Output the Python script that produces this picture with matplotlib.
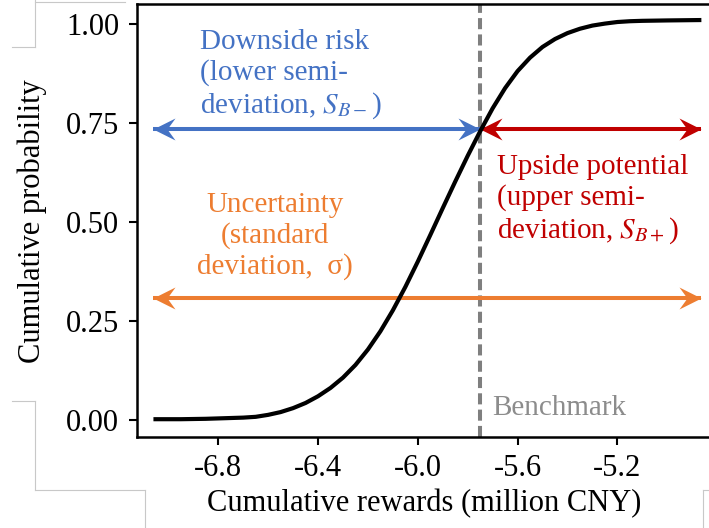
import matplotlib
matplotlib.use("Agg")
import matplotlib.pyplot as plt
from matplotlib.path import Path
from matplotlib.lines import Line2D

plt.rcParams['font.family'] = ['Liberation Serif', 'DejaVu Serif']
plt.rcParams['mathtext.fontset'] = 'stix'

# ---- data ----
reward = [-7.06, -6.95, -6.85, -6.75, -6.70, -6.65, -6.60, -6.55, -6.50, -6.45,
          -6.40, -6.35, -6.30, -6.25, -6.20, -6.15, -6.10, -6.05, -6.00, -5.95,
          -5.90, -5.85, -5.80, -5.75, -5.70, -5.65, -5.60, -5.55, -5.50, -5.45,
          -5.40, -5.35, -5.30, -5.25, -5.20, -5.15, -5.10, -5.00, -4.863]
cum_prob = [0.002, 0.002, 0.003, 0.005, 0.006, 0.008, 0.013, 0.020, 0.030, 0.043,
            0.060, 0.081, 0.107, 0.139, 0.178, 0.224, 0.277, 0.336, 0.400, 0.467,
            0.535, 0.602, 0.667, 0.729, 0.787, 0.838, 0.881, 0.915, 0.942, 0.962,
            0.977, 0.988, 0.996, 1.001, 1.005, 1.007, 1.008, 1.009, 1.010]
benchmark = -5.751
arrow_left = -7.063
arrow_right = -4.863
risk_level = 0.734
unc_level = 0.307
xticks = [-6.8, -6.4, -6.0, -5.6, -5.2]
xtick_labels = ['-6.8', '-6.4', '-6.0', '-5.6', '-5.2']
yticks = [0.0, 0.25, 0.5, 0.75, 1.0]
ytick_labels = ['0.00', '0.25', '0.50', '0.75', '1.00']

BLUE = '#4472C4'
ORANGE = '#ED7D31'
RED = '#C00000'
GRAY = '#7F7F7F'

W, H = 709, 528
fig = plt.figure(figsize=(W / 100, H / 100), dpi=100)


def fx(px):
    return px / W


def fy(py):
    return 1 - py / H


ax = fig.add_axes([fx(136.7), fy(437.3), fx(712) - fx(136.7), fy(4) - fy(437.3)])
ax.set_xlim(-7.1271, -4.8204)
ax.set_ylim(-0.0437, 1.0505)

# arrowhead markers (stealth-like)
head_r = Path([(0, 0), (-22, 11), (-14, 0), (-22, -11), (0, 0)],
              [Path.MOVETO, Path.LINETO, Path.LINETO, Path.LINETO, Path.CLOSEPOLY])
head_l = Path([(0, 0), (22, 11), (14, 0), (22, -11), (0, 0)],
              [Path.MOVETO, Path.LINETO, Path.LINETO, Path.LINETO, Path.CLOSEPOLY])
ms = 2 * 22 * 0.72


def darrow(x0, x1, y, color, left=True, right=True):
    ax.plot([x0, x1], [y, y], color=color, lw=2.9, solid_capstyle='butt', zorder=3)
    if left:
        ax.plot([x0], [y], marker=head_l, ms=ms, color=color, mew=0, zorder=4)
    if right:
        ax.plot([x1], [y], marker=head_r, ms=ms, color=color, mew=0, zorder=4)


ax.axvline(benchmark, color=GRAY, lw=2.9, ls=(0, (2.75, 1.3)), zorder=2)
ax.plot(reward, cum_prob, color='black', lw=3, zorder=5,
        solid_joinstyle='round', solid_capstyle='butt')

darrow(arrow_left, benchmark, risk_level, BLUE)
darrow(benchmark, arrow_right, risk_level, RED)
darrow(arrow_left, arrow_right, unc_level, ORANGE)

ax.set_xticks(xticks)
ax.set_xticklabels(xtick_labels)
ax.set_yticks(yticks)
ax.set_yticklabels(ytick_labels)
ax.tick_params(axis='both', labelsize=22, length=6, width=1.5, direction='out', color='black')
ax.tick_params(axis='y', pad=6.5)
ax.tick_params(axis='x', pad=6)
for s in ['left', 'bottom', 'top', 'right']:
    ax.spines[s].set_linewidth(1.8)

ax.set_xlabel('Cumulative rewards (million CNY)', fontsize=22, labelpad=4)
ax.set_ylabel('Cumulative probability', fontsize=22, labelpad=14)

fig.text(fx(200), fy(75), 'Downside risk\n(lower semi-\ndeviation, $S_{B-}$)',
         color=BLUE, fontsize=21, ha='left', va='center', multialignment='left')
fig.text(fx(275), fy(236), 'Uncertainty\n(standard\ndeviation,  σ)',
         color=ORANGE, fontsize=21, ha='center', va='center', multialignment='center')
fig.text(fx(496.7), fy(200), 'Upside potential\n(upper semi-\ndeviation, $S_{B+}$)',
         color=RED, fontsize=21, ha='left', va='center', multialignment='left')
fig.text(fx(491.7), fy(415), 'Benchmark', color='#8C8C8C', fontsize=21,
         ha='left', va='baseline')

# light gray frame fragments seen in the reference
gcol = '#C8C8C8'
segs = [
    [(35, 0), (35, 47)], [(12, 47), (35, 47)], [(35, 1.5), (125, 1.5)],
    [(12, 401), (35, 401)], [(35, 401), (35, 490)], [(35, 490), (144.7, 490)],
    [(144.7, 490), (144.7, 528)],
    [(702.7, 490), (702.7, 528)], [(702.7, 490), (709, 490)],
]
for (a, b) in segs:
    fig.add_artist(Line2D([fx(a[0]), fx(b[0])], [fy(a[1]), fy(b[1])],
                          transform=fig.transFigure, color=gcol, lw=0.8, zorder=0))

fig.savefig('out.png', dpi=100)
